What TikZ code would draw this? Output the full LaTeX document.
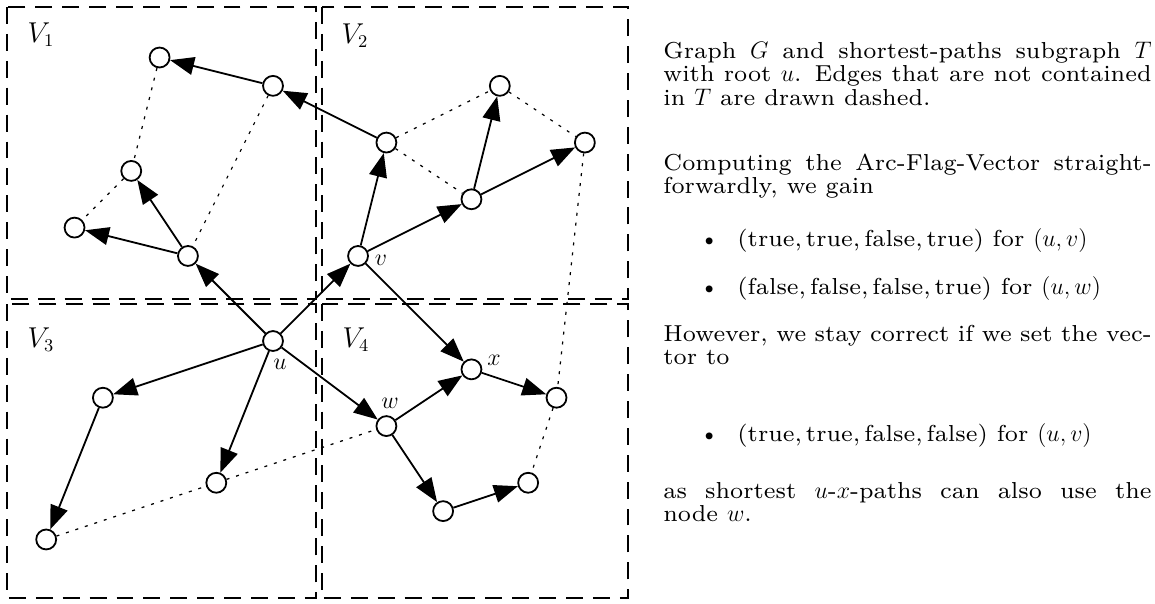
\documentclass[tikz,border=0pt]{standalone}
\usetikzlibrary{arrows.meta}
\font\tf="[lmroman7-regular]:mapping=tex-text" at 11.6pt
\newcommand\jlin[1]{\hbox to 245pt{#1}}
\newcommand\llin[1]{\hbox{#1}}
\hbadness=10000
\hfuzz=50pt
\begin{document}
\begin{tikzpicture}[x=0.5018pt,y=-0.5018pt,
  vtx/.style={circle,draw,line width=0.9pt,minimum size=10pt,inner sep=0pt,fill=white},
  tree/.style={-{Triangle[length=12pt,width=9pt]},line width=0.9pt},
  nontree/.style={line width=0.6pt,dash pattern=on 1.5pt off 3.5pt},
  part/.style={line width=0.6pt,dash pattern=on 8.5pt off 5pt},
  lbl/.style={inner sep=0pt,font=\fontsize{11.6}{11.8}\selectfont},
  plbl/.style={inner sep=0pt,font=\fontsize{13.5}{13.5}\selectfont},
  txt/.style={inner sep=0pt,anchor=base west,font=\fontsize{11.6}{11.8}\selectfont\tf}]
\useasboundingbox (0,0) rectangle (1155,603);
% partitions
\draw[part] (7,7) rectangle (316,299);
\draw[part] (322,7) rectangle (628,299);
\draw[part] (7,304) rectangle (316,598);
\draw[part] (322,304) rectangle (628,598);
\node[plbl] (l1) at (41,35) {$V_1$};
\node[plbl] (l2) at (355,36) {$V_2$};
\node[plbl] (l3) at (41,340) {$V_3$};
\node[plbl] (l4) at (356,340) {$V_4$};
% graph
\begin{scope}[shift={(273,341)},x=0.5cm,y=0.5cm]
\node[vtx] (u) at (0,0) {};
\node[vtx] (v) at (3,3) {};
\node[vtx] (w) at (4,-3) {};
\node[vtx] (x) at (7,-1) {};
\node[vtx] (d1) at (10,-2) {};
\node[vtx] (d2) at (9,-5) {};
\node[vtx] (d3) at (6,-6) {};
\node[vtx] (c1) at (-6,-2) {};
\node[vtx] (c2) at (-2,-5) {};
\node[vtx] (c3) at (-8,-7) {};
\node[vtx] (a5) at (-3,3) {};
\node[vtx] (a4) at (-7,4) {};
\node[vtx] (a3) at (-5,6) {};
\node[vtx] (a1) at (-4,10) {};
\node[vtx] (a2) at (0,9) {};
\node[vtx] (b1) at (4,7) {};
\node[vtx] (b2) at (8,9) {};
\node[vtx] (b3) at (11,7) {};
\node[vtx] (b4) at (7,5) {};
\end{scope}
\node[lbl] (lu) at (280,364) {$u$};
\node[lbl] (lv) at (381,260) {$v$};
\node[lbl] (lw) at (390,403) {$w$};
\node[lbl] (lx) at (494,360) {$x$};
% tree edges
\draw[tree] (a2) -- (a1);
\draw[tree] (b1) -- (a2);
\draw[tree] (a5) -- (a3);
\draw[tree] (a5) -- (a4);
\draw[tree] (u) -- (a5);
\draw[tree] (v) -- (b1);
\draw[tree] (v) -- (b4);
\draw[tree] (b4) -- (b2);
\draw[tree] (b4) -- (b3);
\draw[tree] (u) -- (v);
\draw[tree] (u) -- (c1);
\draw[tree] (c1) -- (c3);
\draw[tree] (u) -- (c2);
\draw[tree] (u) -- (w);
\draw[tree] (v) -- (x);
\draw[tree] (w) -- (x);
\draw[tree] (x) -- (d1);
\draw[tree] (w) -- (d3);
\draw[tree] (d3) -- (d2);
% non-tree edges
\draw[nontree] (a1) -- (a3);
\draw[nontree] (a3) -- (a4);
\draw[nontree] (a2) -- (a5);
\draw[nontree] (b1) -- (b2);
\draw[nontree] (b1) -- (b4);
\draw[nontree] (b2) -- (b3);
\draw[nontree] (b3) -- (d1);
\draw[nontree] (d1) -- (d2);
\draw[nontree] (c3) -- (c2);
\draw[nontree] (c2) -- (w);
% text
\node[txt] (p1) at (663,58) {\vtop{\jlin{Graph $G$ and shortest-paths subgraph $T$}\jlin{with root $u$. Edges that are not contained}\llin{in $T$ are drawn dashed.}}};
\node[txt] (p2) at (663,170) {\vtop{\jlin{Computing the Arc-Flag-Vector straight-}\llin{forwardly, we gain}}};
\node[txt] (i1) at (737,246) {\llap{\textbullet\hspace{9pt}}(true,\,true,\,false,\,true) for $(u,v)$};
\node[txt] (i2) at (737,294) {\llap{\textbullet\hspace{9pt}}(false,\,false,\,false,\,true) for $(u,w)$};
\node[txt] (p3) at (663,341) {\vtop{\jlin{However, we stay correct if we set the vec-}\llin{tor to}}};
\node[txt] (i3) at (737,441) {\llap{\textbullet\hspace{9pt}}(true,\,true,\,false,\,false) for $(u,v)$};
\node[txt] (p4) at (663,498) {\vtop{\jlin{as shortest $u$-$x$-paths can also use the}\llin{node $w$.}}};
\end{tikzpicture}
\end{document}
